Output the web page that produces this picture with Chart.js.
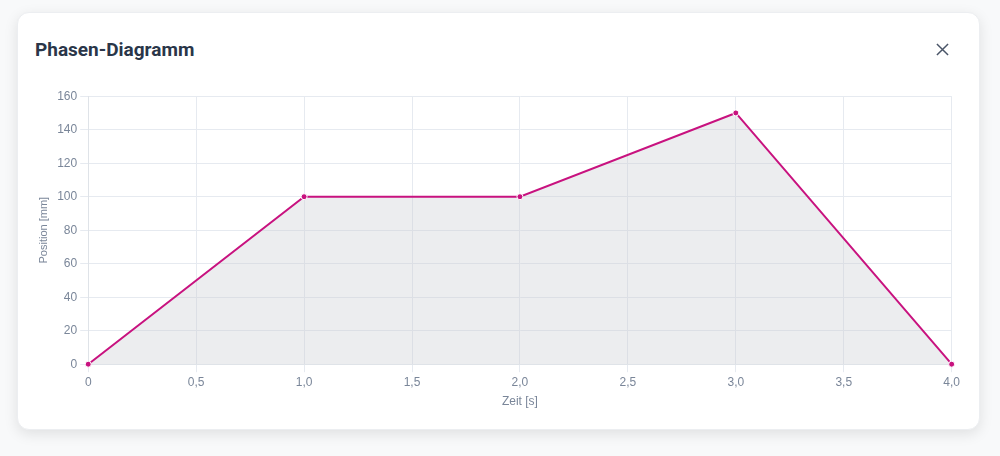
<!DOCTYPE html>
<html><head><meta charset="utf-8">
<script src="https://cdn.jsdelivr.net/npm/chart.js@4.4.0/dist/chart.umd.min.js"></script>
<style>
html,body{margin:0;padding:0;background:#f8f9fa;width:1000px;height:456px;overflow:hidden;font-family:Roboto,"Noto Sans",sans-serif;}
.card{position:absolute;left:17px;top:12px;width:963px;height:418px;background:#fff;border-radius:12px;box-shadow:0 4px 14px rgba(0,0,0,0.10);border:1px solid #eceef1;box-sizing:border-box;}
.title{position:absolute;left:17px;top:25px;font-size:19px;font-weight:700;color:#2a3649;}
.close{position:absolute;left:918px;top:30px;width:13px;height:13px;}
.wrap{position:absolute;left:15px;top:73px;width:930px;height:327px;}
</style></head><body>
<div class="card">
<div class="title">Phasen-Diagramm</div>
<svg class="close" viewBox="0 0 14 14"><path d="M1 1L13 13M13 1L1 13" stroke="#4a5568" stroke-width="1.6" fill="none"/></svg>
<div class="wrap"><canvas id="c"></canvas></div>
</div>
<script>
const times = [0, 1, 2, 3, 4];
const positions = [0, 100, 100, 150, 0];
const xTitle = "Zeit [s]";
const yTitle = "Position [mm]";
const ctx = document.getElementById('c');
const tickFont = {family: "'Liberation Sans', Arial, sans-serif", size: 12};
new Chart(ctx, {
  type: 'line',
  data: {
    datasets: [{
      data: times.map((t, i) => ({x: t, y: positions[i]})),
      borderColor: '#c8127f',
      backgroundColor: 'rgba(200,204,210,0.35)',
      fill: true,
      clip: false,
      borderWidth: 2,
      pointRadius: 3,
      pointBorderWidth: 1,
      pointBackgroundColor: '#c8127f',
      pointBorderColor: '#ffffff',
      tension: 0
    }]
  },
  options: {
    responsive: true,
    maintainAspectRatio: false,
    animation: false,
    layout: {padding: {left: 0, right: 10, top: 8, bottom: 0}},
    plugins: {legend: {display: false}, tooltip: {enabled: false}},
    scales: {
      x: {
        type: 'linear', min: 0, max: 4,
        ticks: {stepSize: 0.5, color: '#7a8699', font: tickFont,
          callback: v => v === 0 ? '0' : v.toFixed(1).replace('.', ',')},
        grid: {color: '#e6eaf0', tickLength: 8},
        border: {color: '#dfe3e8'},
        title: {display: true, text: xTitle, color: '#7a8699', font: tickFont, padding: {top: 2}}
      },
      y: {
        min: 0, max: 160,
        ticks: {stepSize: 20, color: '#7a8699', font: tickFont},
        grid: {color: '#e6eaf0', tickLength: 8},
        border: {color: '#dfe3e8'},
        title: {display: true, text: yTitle, color: '#7a8699', font: {family: "'Liberation Sans', Arial, sans-serif", size: 11}}
      }
    }
  }
});
</script>
</body></html>
